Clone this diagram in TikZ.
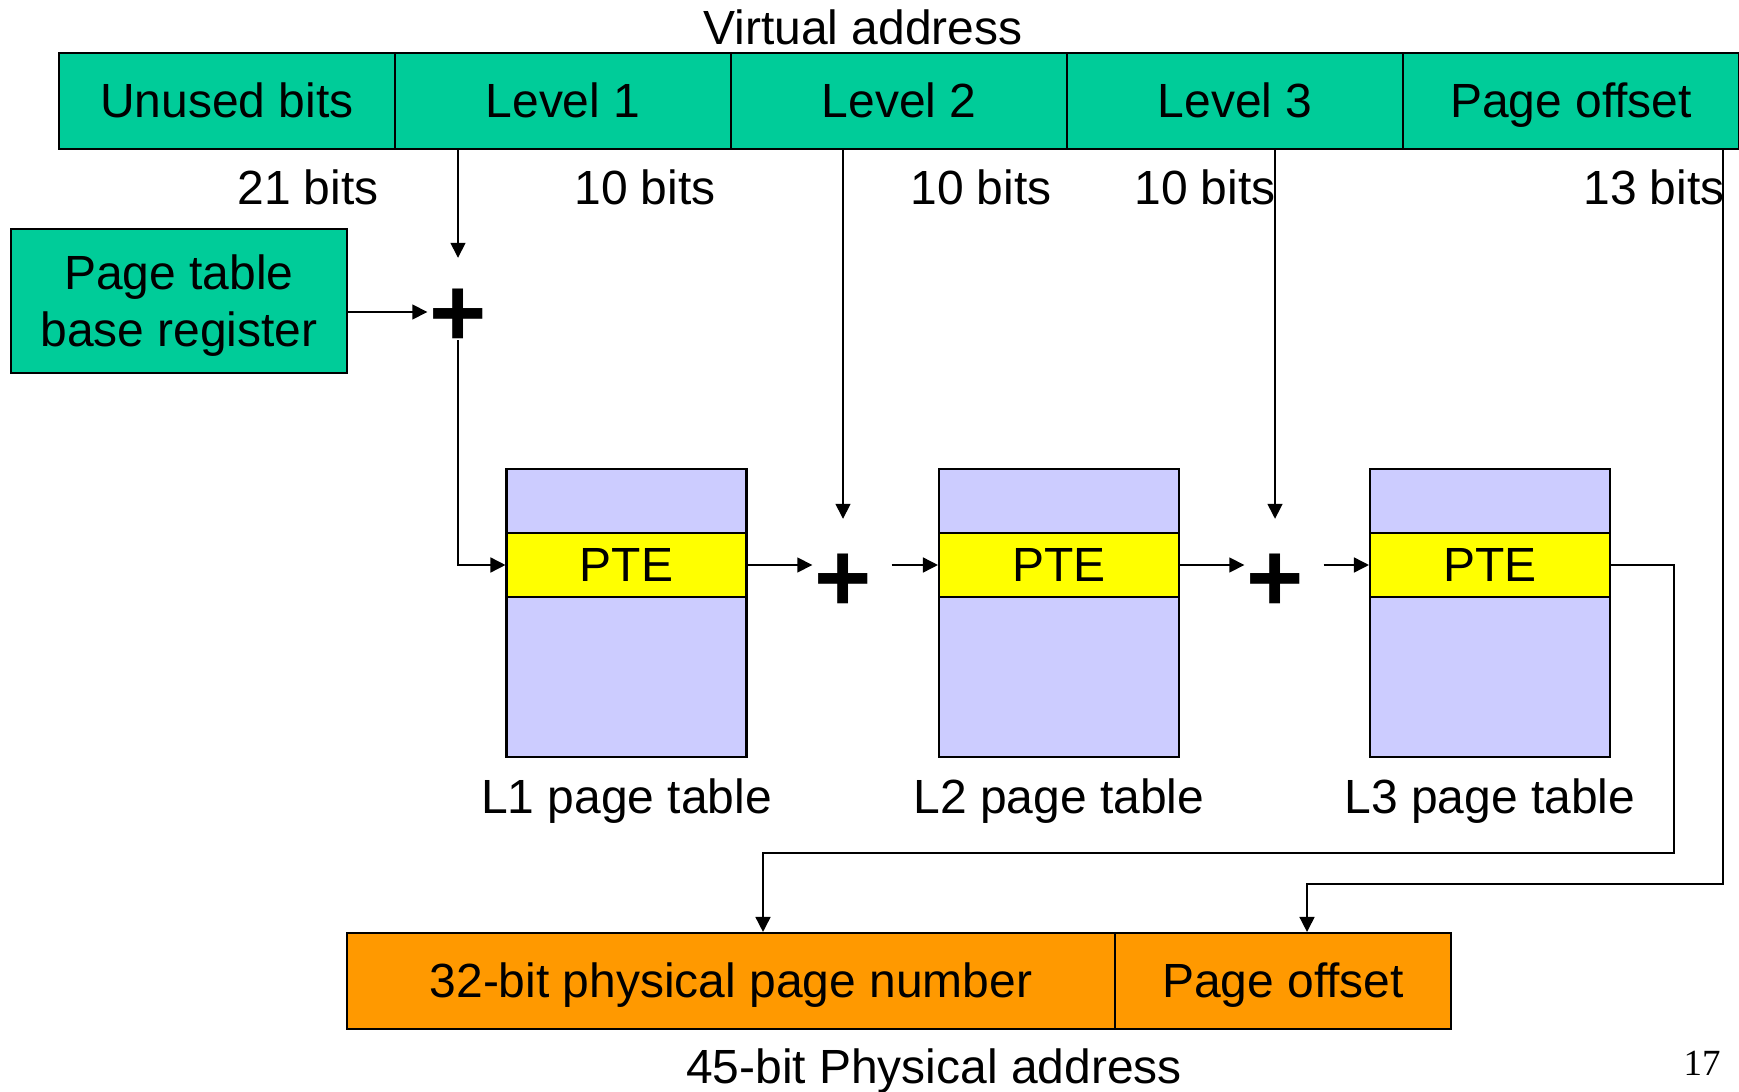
\documentclass[tikz,border=0pt]{standalone}
\usepackage{fontspec}
\setmainfont{Liberation Sans}
\newfontfamily\slidenum{Liberation Serif}
\usepackage{xcolor}
\usepackage{tikz}
\usetikzlibrary{shapes, arrows.meta, positioning, calc}

\definecolor{vateal}{RGB}{0,204,153}
\definecolor{ptlilac}{RGB}{204,204,255}
\definecolor{pteyellow}{RGB}{255,255,0}
\definecolor{paorange}{RGB}{255,153,0}

\tikzset{
  every node/.style={font=\fontsize{13.65}{16.2}\selectfont},
  box/.style={draw, rectangle, line width=0.6pt, inner sep=0pt},
  field/.style={box, minimum width=3.36cm, minimum height=0.96cm, text height=0.335cm, text depth=0pt},
  vabit/.style={field, fill=vateal},
  pabit/.style={field, fill=paorange},
  ptbl/.style={box, fill=ptlilac, minimum width=2.40cm, minimum height=2.88cm},
  pte/.style={box, fill=pteyellow, minimum width=2.40cm, minimum height=0.64cm, text height=0.335cm, text depth=0pt},
  adder/.style={font=\fontsize{27.9}{28}\selectfont\bfseries, minimum width=0.6cm, minimum height=0.55cm,
                inner xsep=0pt, inner ysep=-0.07cm, text height=0.69cm, text depth=0pt},
  lbl/.style={anchor=base},
  arr/.style={-{Triangle[length=0.15cm,width=0.15cm]}, line width=0.45pt}
}

\begin{document}
\begin{tikzpicture}
\useasboundingbox (0,0) rectangle (17.39,-10.92);

% Virtual address
\node[lbl] (vacap) at (8.63,-0.45) {Virtual address};
\foreach \i/\txt in {0/Unused bits, 1/Level 1, 2/Level 2, 3/Level 3, 4/Page offset} {
   \node[vabit] (va\i) at ({2.27+3.36*\i}, -1.01) {\txt};
}
\foreach \x/\txt [count=\i] in {3.08/21 bits, 6.45/10 bits, 9.81/10 bits, 12.05/10 bits, 16.54/13 bits} {
   \node[lbl] (bits\i) at (\x, -2.05) {\txt};
}

\node[box, fill=vateal, minimum width=3.36cm, minimum height=1.44cm, align=center, text depth=0pt] (ptbr) at (1.79,-3.01) {Page table\\base register};

% Adders
\node[adder] (add1) at (4.58,-3.12) {+};
\node[adder] (add2) at (8.43,-5.77) {+};
\node[adder] (add3) at (12.75,-5.77) {+};

% Page tables
\foreach \i/\x in {1/6.265, 2/10.59, 3/14.90} {
   \node[ptbl] (l\i) at (\x, -6.13) {};
   \node[pte] (pte\i) at (\x, -5.65) {PTE};
   \node[lbl] (l\i lab) at (\x, -8.13) {L\i{} page table};
}

% Physical address
\node[pabit, minimum width=7.68cm] (pa0) at (7.31,-9.81) {32-bit physical page number};
\node[pabit] (pa1) at (12.83,-9.81) {Page offset};
\node[lbl] (pacap) at (9.34,-10.83) {45-bit Physical address};
\node[lbl, font=\slidenum\fontsize{10.5}{12}\selectfont] (pgno) at (17.02,-10.75) {17};

% Walk
\draw[arr, shorten >=0.26cm] (va1.south -| add1) -- (add1.north);
\draw[arr] (ptbr.east |- add1) -- (add1.west);
\draw[arr] (add1.south) |- (pte1.west);

\draw[arr, shorten >=0.3cm] (va2.south -| add2) -- (add2.north);
\draw[arr] (pte1.east) -- (pte1.east -| add2.west);
\draw[arr, shorten <=0.18cm] (add2.east |- pte2.west) -- (pte2.west);

\draw[arr, shorten >=0.3cm] (va3.south -| add3) -- (add3.north);
\draw[arr] (pte2.east) -- (pte2.east -| add3.west);
\draw[arr, shorten <=0.18cm] (add3.east |- pte3.west) -- (pte3.west);

\coordinate (ppnturn) at (16.74,-8.53);
\coordinate (offturn) at (17.23,-8.84);
\draw[arr] (pte3.east) -| (ppnturn) -| ([xshift=0.32cm]pa0.north);
\draw[arr] (va4.south -| offturn) -- (offturn) -| ([xshift=0.24cm]pa1.north);
\end{tikzpicture}
\end{document}
